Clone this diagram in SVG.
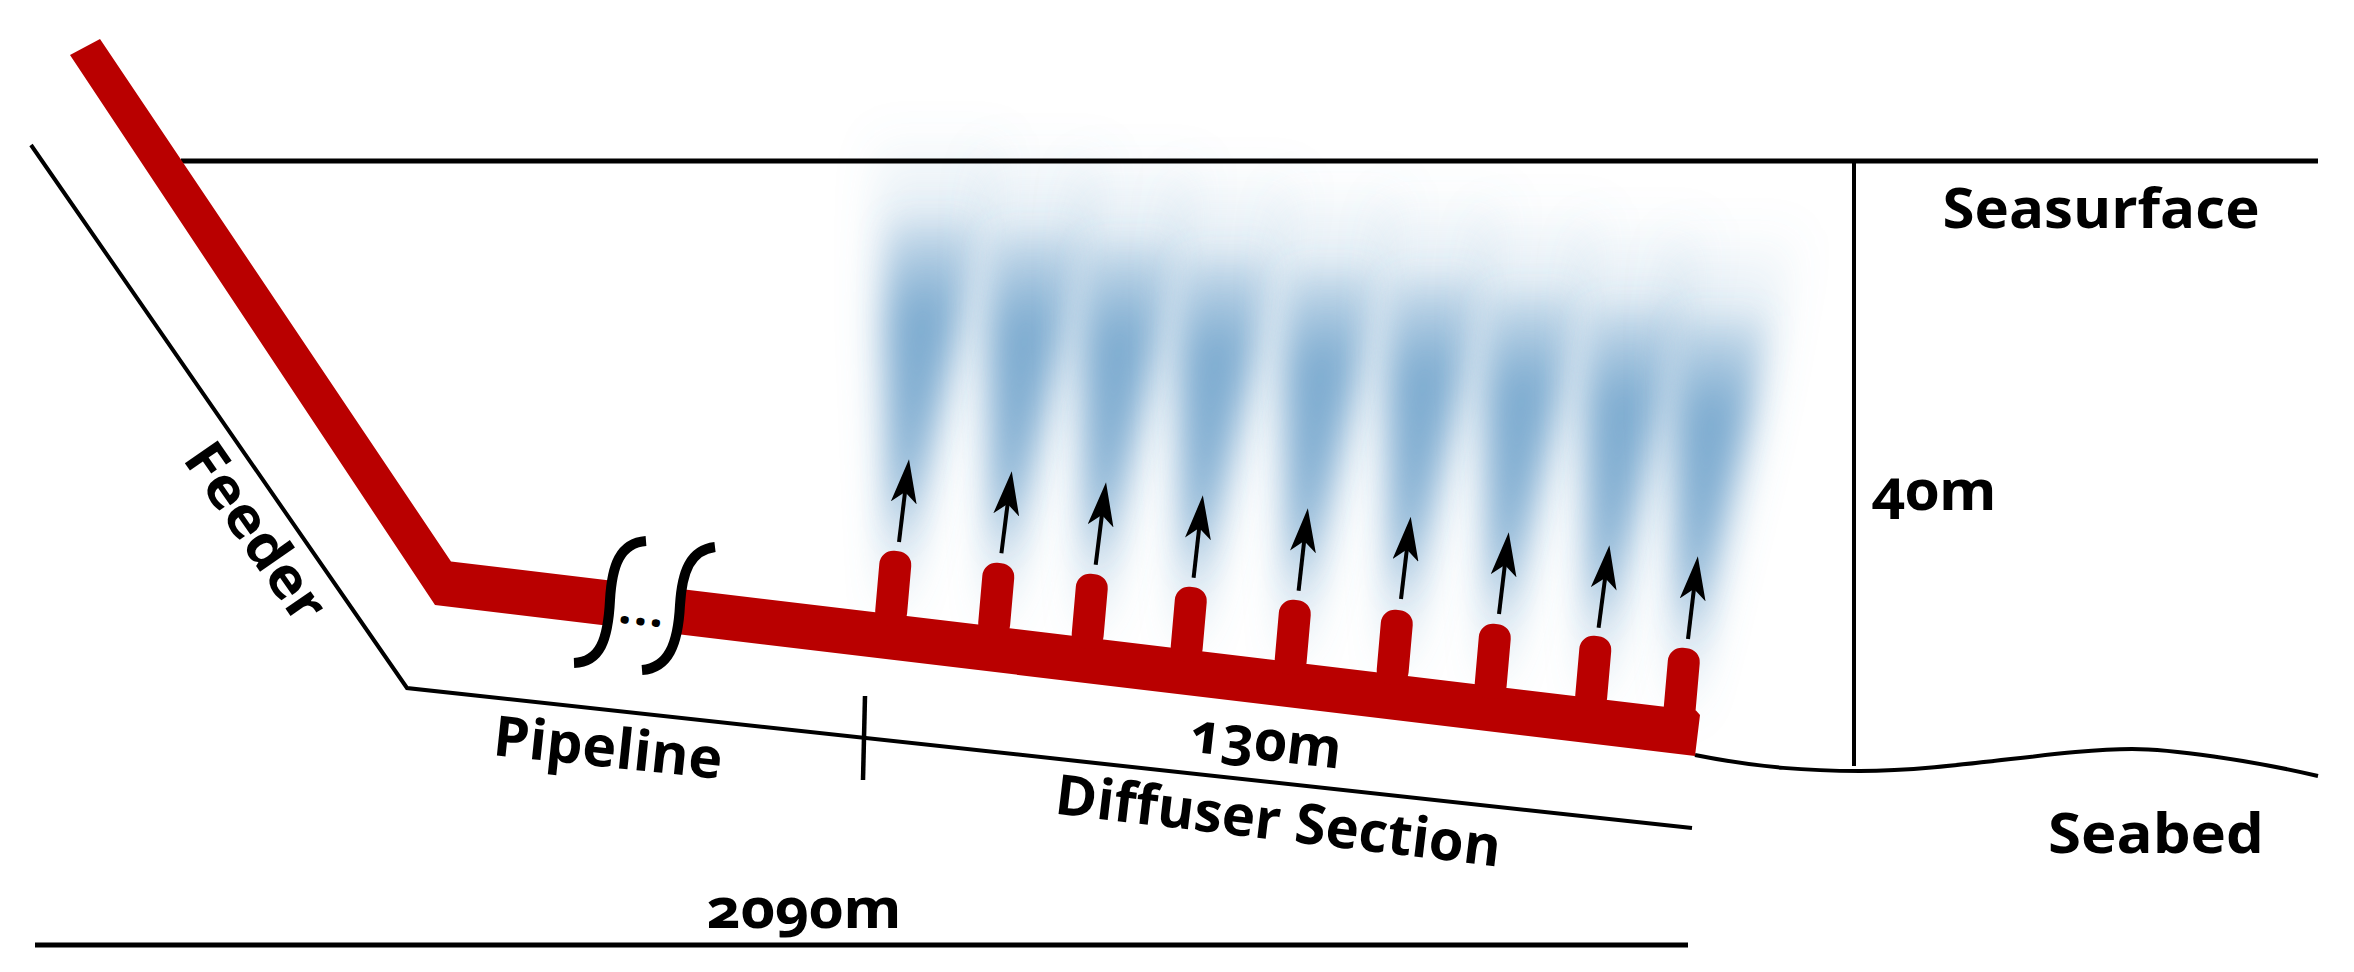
<svg xmlns="http://www.w3.org/2000/svg" width="2354" height="972" viewBox="0 0 2354 972">
<style>
.ln{fill:none;stroke:#000;stroke-width:4}
.pipe{fill:#b90000}
.t{font-family:"Open Sans","Noto Sans","Liberation Sans",sans-serif;font-weight:700;font-size:56px;fill:#000;text-anchor:middle;font-feature-settings:"onum"}
.arrow{fill:none;stroke:#000;stroke-width:4;marker-end:url(#ah)}
.po{fill:url(#pgo);filter:url(#blo)}
.pc{fill:url(#pgc);filter:url(#blc)}
</style>
<defs>
<linearGradient id="pgo" x1="0" y1="0" x2="0" y2="1">
<stop offset="0" stop-color="#6a9fc9" stop-opacity="0"/>
<stop offset=".2" stop-color="#6a9fc9" stop-opacity=".2"/>
<stop offset=".42" stop-color="#6a9fc9" stop-opacity=".55"/>
<stop offset=".78" stop-color="#6a9fc9" stop-opacity=".55"/>
<stop offset="1" stop-color="#6a9fc9" stop-opacity=".35"/>
</linearGradient>
<linearGradient id="pgc" x1="0" y1="0" x2="0" y2="1">
<stop offset="0" stop-color="#6a9fc9" stop-opacity=".1"/>
<stop offset=".3" stop-color="#6a9fc9" stop-opacity=".7"/>
<stop offset=".8" stop-color="#6a9fc9" stop-opacity=".65"/>
<stop offset="1" stop-color="#6a9fc9" stop-opacity=".3"/>
</linearGradient>
<filter id="blo" x="-60%" y="-30%" width="220%" height="160%"><feGaussianBlur stdDeviation="20"/></filter>
<filter id="blc" x="-60%" y="-30%" width="220%" height="160%"><feGaussianBlur stdDeviation="15"/></filter>
<marker id="ah" markerUnits="userSpaceOnUse" markerWidth="44" markerHeight="26" viewBox="0 0 44 26" refX="14" refY="13" orient="auto"><path d="M0 0L44 13L0 26L11 13Z" fill="#000"/></marker>
<rect id="stub" x="-16" y="0" width="32" height="75" rx="14" class="pipe" transform="rotate(5)"/>
<g id="plume"><polygon class="po" points="-16,165 -36,-335 104,-335"/><polygon class="pc" points="-12,85 -20,-240 70,-240"/></g>
</defs>
<rect width="2354" height="972" fill="#fff"/>
<g id="plumes">
<use href="#plume" x="909" y="459"/><use href="#plume" x="1012" y="471"/><use href="#plume" x="1106" y="482"/><use href="#plume" x="1203" y="495"/><use href="#plume" x="1308" y="508"/><use href="#plume" x="1411" y="517"/><use href="#plume" x="1509" y="532"/><use href="#plume" x="1609" y="545"/><use href="#plume" x="1698" y="556"/>
</g>
<g id="connectors">
<path class="ln" style="stroke-width:5" d="M181 161H2318"/>
<path class="ln" d="M1854 161V766"/>
<path class="ln" d="M1695 755C1760 768 1810 771 1860 771C1950 771 2060 749 2132 749C2170 749 2250 760 2318 776"/>
<path class="ln" d="M31 145L407 688L1692 828"/>
<path class="ln" style="stroke-width:4.5" d="M865 696L863 780"/>
<path class="ln" style="stroke-width:5" d="M35 945H1688"/>
<path class="arrow" d="M899 542L905.4 489"/><path class="arrow" d="M1001.4 553.3L1008 501"/><path class="arrow" d="M1095.7 564.7L1102.3 512"/><path class="arrow" d="M1193.6 577.7L1199.5 525"/><path class="arrow" d="M1298.6 590.7L1304.5 538"/><path class="arrow" d="M1401 599L1407.2 546.5"/><path class="arrow" d="M1499 614L1505.2 562"/><path class="arrow" d="M1598.6 627.7L1605.5 575"/><path class="arrow" d="M1688 639L1694.3 586"/>
</g>
<g id="pipe">
<polygon class="pipe" points="70,55 100,39 451,561.5 1696,710.5 1700,715 1695,756 435,605"/>
<use href="#stub" x="896.5" y="551"/><use href="#stub" x="999.5" y="563"/><use href="#stub" x="1093" y="574"/><use href="#stub" x="1192" y="587"/><use href="#stub" x="1296" y="600"/><use href="#stub" x="1398" y="610"/><use href="#stub" x="1496" y="624"/><use href="#stub" x="1596.5" y="636"/><use href="#stub" x="1685" y="648"/>
</g>
<g id="break">
<path fill="#fff" d="M646 539C620 541 612 565 610 600C608 640 600 662 574 665L642 671C668 668 678 645 680 605C682 572 690 548 715 545Z"/>
<path class="ln" style="stroke-width:10" d="M646 541C620 543 612 565 610 600C608 640 600 662 574 663"/>
<path class="ln" style="stroke-width:10" d="M715 547C690 550 682 572 680 605C678 645 668 668 642 670"/>
<text class="t" style="font-size:48px;letter-spacing:2px" x="641" y="625" transform="rotate(6 641 625)">...</text>
</g>
<g id="labels">
<text class="t" x="2101" y="228" textLength="317" lengthAdjust="spacingAndGlyphs">Seasurface</text>
<text class="t" x="1934" y="510" textLength="125" lengthAdjust="spacingAndGlyphs">40m</text>
<text class="t" x="2156" y="853" textLength="216" lengthAdjust="spacingAndGlyphs">Seabed</text>
<text class="t" x="804" y="928" textLength="195" lengthAdjust="spacingAndGlyphs">2090m</text>
<text class="t" x="1264" y="760" transform="rotate(6.5 1264 760)" textLength="152" lengthAdjust="spacingAndGlyphs">130m</text>
<text class="t" x="1276" y="840" transform="rotate(6.8 1276 840)" textLength="448" lengthAdjust="spacingAndGlyphs">Diffuser Section</text>
<text class="t" x="606" y="767" transform="rotate(6 606 767)" textLength="230" lengthAdjust="spacingAndGlyphs">Pipeline</text>
<text class="t" x="240" y="543" transform="rotate(55.3 240 543)" textLength="205" lengthAdjust="spacingAndGlyphs">Feeder</text>
</g>
</svg>
